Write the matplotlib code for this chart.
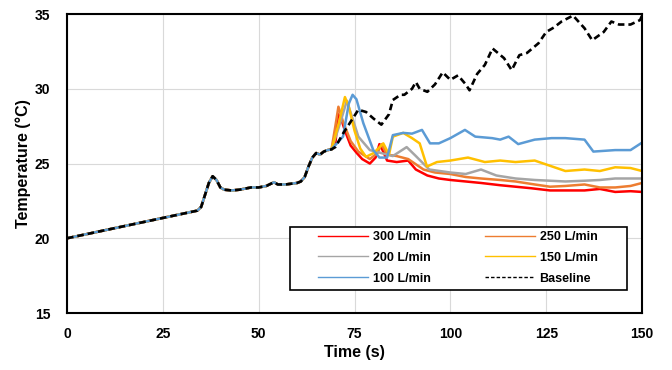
import matplotlib
matplotlib.use("Agg")
import matplotlib.pyplot as plt
import matplotlib.patches as patches
import numpy as np

plt.rcParams['font.family'] = ['Liberation Sans', 'DejaVu Sans']
plt.rcParams['font.weight'] = 'bold'

# shared warm-up part (all runs identical until the fan starts)
t_common = [0, 34, 35, 36, 37, 38, 39, 40, 41, 43, 45, 48, 50, 52, 54, 55, 57, 60, 61, 62, 63, 64, 65, 66, 67, 68, 69]
T_common = [20.0, 21.85, 22.1, 22.9, 23.7, 24.15, 23.9, 23.4, 23.25, 23.2, 23.25, 23.4, 23.4, 23.5, 23.75, 23.6, 23.6,
            23.7, 23.8, 24.1, 24.8, 25.4, 25.7, 25.6, 25.8, 25.9, 25.95]

# baseline after warm-up
t_base = [70, 72, 74, 76, 78, 80, 82, 84, 85, 87, 88, 90, 91, 92, 94, 96, 98, 100, 102, 104, 105, 107, 109, 111,
          114, 116, 118, 120, 123, 125, 127, 129, 132, 135, 137, 140, 142, 144, 147, 149.5, 150]
T_base = [26.1, 27.0, 27.8, 28.6, 28.45, 28.0, 27.6, 28.3, 29.25, 29.6, 29.6, 30.0, 30.45, 30.0, 29.8, 30.3, 31.1,
          30.6, 30.9, 30.3, 29.9, 31.0, 31.6, 32.7, 32.05, 31.25, 32.25, 32.4, 33.05, 33.8, 34.1, 34.5, 34.9, 34.05,
          33.25, 33.8, 34.5, 34.3, 34.3, 34.6, 34.9]

t_300 = [70, 70.7, 71.5, 72.5, 74, 75.6, 77, 79, 80.5, 81.5, 82.5, 83.5, 86, 89, 91, 94, 97, 100, 104, 108, 113,
         117, 121, 126, 130, 135, 139, 143, 147, 150]
T_300 = [26.3, 28.3, 28.0, 27.2, 26.2, 25.7, 25.3, 25.0, 25.4, 26.3, 25.8, 25.2, 25.1, 25.2, 24.6, 24.2, 24.0, 23.9,
         23.8, 23.7, 23.55, 23.45, 23.35, 23.2, 23.2, 23.2, 23.3, 23.1, 23.15, 23.1]

t_250 = [70, 70.8, 72, 74, 76, 79, 81, 82, 83.5, 86, 89, 93, 96, 100, 104, 108, 113, 117, 122, 126, 130, 135, 139,
         143, 147, 150]
T_250 = [27.5, 28.8, 27.8, 26.5, 25.8, 25.3, 25.7, 26.3, 25.6, 25.5, 25.3, 24.6, 24.4, 24.3, 24.1, 24.0, 23.9, 23.8,
         23.6, 23.45, 23.5, 23.6, 23.4, 23.4, 23.5, 23.7]

t_200 = [71, 73, 74.5, 76, 79, 82, 85, 88.6, 91, 94.5, 100, 104, 108, 112, 117, 122, 126, 130, 135, 139, 143, 147, 150]
T_200 = [27.5, 29.2, 28.0, 26.8, 25.9, 25.7, 25.5, 26.1, 25.5, 24.6, 24.4, 24.3, 24.6, 24.2, 24.0, 23.9, 23.85, 23.8,
         23.85, 23.9, 24.0, 24.0, 24.0]

t_150 = [71, 72.5, 73.5, 75, 76.5, 78, 80, 82.5, 84, 85, 87.7, 90, 92, 93.9, 96.5, 100, 104.6, 109, 113, 117, 122,
         126, 130, 135, 139, 143, 147, 150]
T_150 = [27.8, 29.45, 28.8, 27.2, 26.0, 25.45, 25.7, 26.35, 25.6, 26.8, 27.05, 26.7, 26.35, 24.8, 25.1, 25.2, 25.4,
         25.1, 25.2, 25.1, 25.2, 24.85, 24.5, 24.6, 24.5, 24.75, 24.7, 24.5]

t_100 = [72, 73.5, 74.5, 75.5, 77.3, 79.9, 81.5, 83.5, 85, 87.7, 90, 92.6, 94.7, 97, 100, 103.8, 106.5, 110.9, 113,
         115.2, 117.7, 122, 126.4, 130, 135, 137.3, 143, 147, 150]
T_100 = [26.8, 29.0, 29.6, 29.3, 27.7, 25.9, 25.4, 25.4, 26.9, 27.05, 27.0, 27.25, 26.35, 26.35, 26.7, 27.25, 26.8,
         26.7, 26.6, 26.8, 26.3, 26.6, 26.7, 26.7, 26.6, 25.8, 25.9, 25.9, 26.4]

series = [
    ('300 L/min', t_300, T_300, '#FF0000'),
    ('250 L/min', t_250, T_250, '#ED7D31'),
    ('200 L/min', t_200, T_200, '#A5A5A5'),
    ('150 L/min', t_150, T_150, '#FFC000'),
    ('100 L/min', t_100, T_100, '#5B9BD5'),
]

fig = plt.figure(figsize=(6.72, 3.70), dpi=100)
ax = fig.add_axes([0.0997, 0.154, 0.8557, 0.808])

lines = {}
for label, t, T, col in series:
    tt = np.concatenate([t_common, t])
    TT = np.concatenate([T_common, T])
    lines[label], = ax.plot(tt, TT, color=col, lw=1.8, label=label)

lines['Baseline'], = ax.plot(np.concatenate([t_common, t_base]), np.concatenate([T_common, T_base]),
                             color='black', lw=1.9, ls=(0, (2.5, 1.5)), label='Baseline')

ax.set_xlim(0, 150)
ax.set_ylim(15, 35)
ax.set_xticks([0, 25, 50, 75, 100, 125, 150])
ax.set_yticks([15, 20, 25, 30, 35])
ax.grid(True, color='#d9d9d9', lw=0.8)
ax.set_axisbelow(True)
ax.tick_params(length=0, labelsize=10)
ax.tick_params(axis='x', pad=10)
ax.tick_params(axis='y', pad=12)
for s in ax.spines.values():
    s.set_linewidth(1.5)
ax.set_xlabel('Time (s)', fontsize=11.5, fontweight='bold', labelpad=3)
ax.set_ylabel('Temperature (°C)', fontsize=11.5, fontweight='bold', labelpad=3)

# legend box drawn as its own rectangle, entries placed inside it
box = patches.Rectangle((0.388, 0.077), 0.586, 0.211, transform=ax.transAxes,
                        facecolor='white', edgecolor='black', lw=1.2, zorder=5)
ax.add_patch(box)

# column-first fill: left column 300/200/100, right column 250/150/Baseline
order = ['300 L/min', '200 L/min', '100 L/min', '250 L/min', '150 L/min', 'Baseline']
leg = ax.legend([lines[k] for k in order], order, ncol=2, loc='upper left',
                bbox_to_anchor=(0.4365, 0.274), frameon=False, fontsize=9,
                handlelength=4.0, handletextpad=0.4, columnspacing=4.3,
                labelspacing=0.7, borderpad=0, borderaxespad=0)
leg.set_zorder(6)
for h in leg.get_lines():
    h.set_linewidth(1.0)

fig.savefig('out.png', dpi=100)
